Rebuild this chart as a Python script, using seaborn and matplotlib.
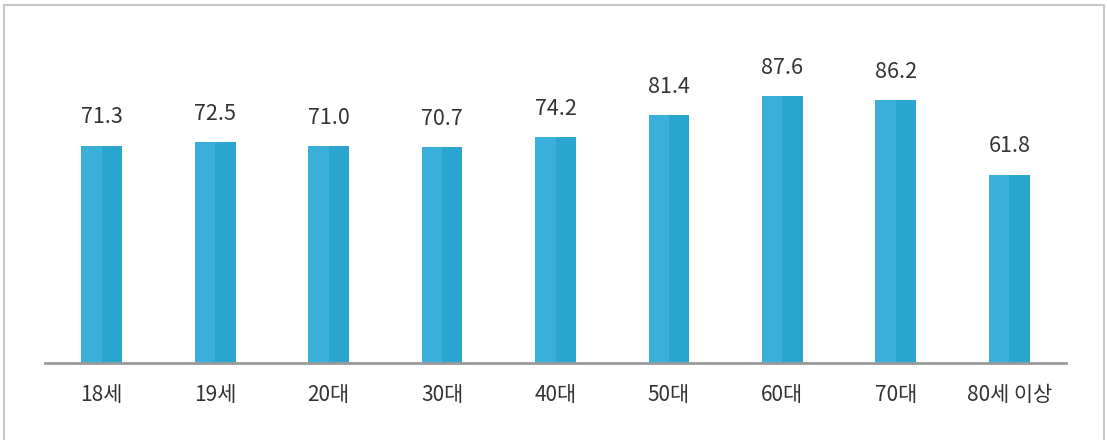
import pandas as pd
import seaborn as sns
import matplotlib.pyplot as plt
from matplotlib.patches import Rectangle

# === Data ===
categories = ["18세", "19세", "20대", "30대", "40대", "50대", "60대", "70대", "80세 이상"]
values = [71.3, 72.5, 71.0, 70.7, 74.2, 81.4, 87.6, 86.2, 61.8]

light = "#3AAFD9"
dark = "#2AA5CF"

# each bar is drawn as two halves (light left, dark right)
df = pd.DataFrame({
    "cat": categories * 2,
    "val": values * 2,
    "half": ["L"] * len(categories) + ["R"] * len(categories),
})

sns.set_style("white")
plt.rcParams["font.family"] = ["Noto Sans CJK KR", "DejaVu Sans"]

fig = plt.figure(figsize=(11.07, 4.4), dpi=100)
ax = fig.add_axes([45 / 1107, 77 / 440, 1021 / 1107, 305 / 440])

sns.barplot(data=df, x="cat", y="val", hue="half", order=categories,
            palette=[light, dark], width=0.36, dodge=True, gap=0,
            saturation=1, legend=False, ax=ax, linewidth=0)

ax.set_xlim(-0.5, len(categories) - 0.5)
ax.set_ylim(0, 100)

for i, v in enumerate(values):
    ax.text(i, v + 5.6, f"{v:.1f}", ha="center", va="bottom",
            fontsize=15.5, color="#333333")

ax.set_xlabel("")
ax.set_ylabel("")
ax.set_yticks([])
ax.tick_params(axis="x", length=0, pad=15, labelsize=15, colors="#333333")
for s in ["top", "right", "left"]:
    ax.spines[s].set_visible(False)
ax.spines["bottom"].set_color("#999999")
ax.spines["bottom"].set_linewidth(2)
ax.spines["bottom"].set_zorder(5)

# outer frame
fig.patches.append(Rectangle((3.5 / 1107, -0.05), 1100 / 1107, 1.05 - 5.5 / 440,
                             transform=fig.transFigure, fill=False,
                             edgecolor="#c8c8c8", linewidth=1.5))

fig.savefig("out.png", dpi=100)
